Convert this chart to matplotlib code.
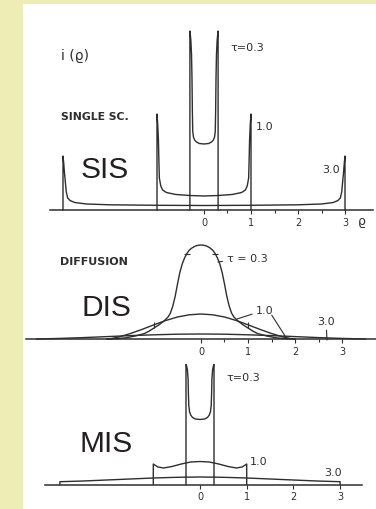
import numpy as np
import matplotlib
matplotlib.use("Agg")
import matplotlib.pyplot as plt
from matplotlib.patches import Rectangle

# ---- data (half profiles, rho >= 0) ----
rho_ticks = [0, 1, 2, 3]
rho_ticklabels = ["0", "1", "2", "3"]

# single scattering
sis03_r = [0, 0.1, 0.16, 0.2, 0.225, 0.24, 0.248, 0.255, 0.265, 0.28, 0.3]
sis03_i = [6.6, 6.65, 6.8, 7.0, 7.3, 7.9, 10.0, 13.0, 15.5, 17.0, 17.9]
sis10_r = [0, 0.3, 0.6, 0.8, 0.88, 0.92, 0.95, 0.96, 0.97, 0.985, 1.0]
sis10_i = [1.4, 1.45, 1.55, 1.75, 2.0, 2.4, 3.2, 5.0, 7.0, 8.6, 9.6]
sis30_r = [0, 1.0, 2.0, 2.5, 2.75, 2.85, 2.9, 2.93, 2.95, 2.97, 2.985, 3.0]
sis30_i = [0.45, 0.47, 0.52, 0.6, 0.75, 0.95, 1.2, 1.8, 2.8, 3.8, 4.7, 5.4]

# diffusion
dis03_r = [0, 0.05, 0.1, 0.15, 0.2, 0.25, 0.3, 0.35, 0.4, 0.45, 0.5, 0.55, 0.6, 0.65, 0.7,
           0.8, 0.9, 1.0, 1.1, 1.2, 1.4, 1.6, 1.8, 2.0]
dis03_i = [9.4, 9.38, 9.33, 9.22, 9.08, 8.88, 8.55, 8.1, 7.5, 6.65, 5.5, 4.25, 3.3, 2.6, 2.2,
           1.75, 1.4, 1.1, 0.8, 0.55, 0.3, 0.12, 0.03, 0]
dis10_r = [0, 0.25, 0.5, 0.75, 1.0, 1.25, 1.5, 1.75, 1.9, 2.0]
dis10_i = [2.5, 2.42, 2.2, 1.85, 1.42, 0.97, 0.55, 0.2, 0.05, 0.0]
dis30_r = [0, 0.5, 1.0, 1.5, 2.0, 2.5, 3.0, 3.5]
dis30_i = [0.5, 0.48, 0.42, 0.34, 0.24, 0.14, 0.06, 0.0]

# multiple scattering
mis03_r = [0, 0.1, 0.16, 0.2, 0.225, 0.24, 0.248, 0.255, 0.27, 0.29, 0.3]
mis03_i = [6.5, 6.55, 6.7, 6.95, 7.3, 7.9, 9.0, 10.5, 11.5, 11.9, 12.0]
mis10_r = [0, 0.2, 0.4, 0.6, 0.78, 0.9, 0.97, 1.0]
mis10_i = [2.3, 2.25, 2.05, 1.8, 1.65, 1.75, 1.95, 2.05]
mis30_r = [0, 0.5, 1.0, 1.5, 2.0, 2.5, 3.0]
mis30_i = [0.75, 0.72, 0.65, 0.55, 0.45, 0.35, 0.28]

INK = "#2e2e2e"
W, H = 376, 510

def mirror(r, i, walls=False):
    x = [-v for v in r[::-1]] + list(r[1:])
    y = list(i[::-1]) + list(i[1:])
    if walls:
        x = [x[0]] + x + [x[-1]]
        y = [0] + y + [0]
    return x, y

fig = plt.figure(figsize=(W / 100, H / 100), dpi=100, facecolor="#EEEDB5")
fig.patches.append(Rectangle((23 / W, 0), 1 - 23 / W, 1 - 5 / H, transform=fig.transFigure,
                             facecolor="white", edgecolor="none", zorder=-5))

def panel(top, bottom, x0, base, sx, left_end, right_end, minor=True, sy=10.0):
    ax = fig.add_axes([23 / W, 1 - bottom / H, (W - 23) / W, (bottom - top) / H])
    ax.set_xlim((23 - x0) / sx, (W - x0) / sx)
    ax.set_ylim(-(bottom - base) / sy, (base - top) / sy)
    ax.patch.set_visible(False)
    for s in ["top", "left", "right"]:
        ax.spines[s].set_visible(False)
    ax.spines["bottom"].set_position(("data", 0))
    ax.spines["bottom"].set_bounds((left_end - x0) / sx, (right_end - x0) / sx)
    ax.spines["bottom"].set_color(INK)
    ax.spines["bottom"].set_linewidth(1.1)
    ax.set_yticks([])
    ax.set_xticks(rho_ticks)
    ax.set_xticklabels(rho_ticklabels)
    if minor:
        ax.set_xticks([0.5, 1.5, 2.5], minor=True)
    ax.tick_params(axis="x", which="both", direction="out", length=3, width=0.8,
                   color=INK, labelsize=7, pad=2, labelcolor=INK)
    ax.tick_params(axis="x", which="minor", length=2)
    # pixel -> data helper for text placement
    ax.px = lambda px, py: ((px - x0) / sx, (base - py) / sy)
    return ax

def label(ax, px, py, s, **kw):
    x, y = ax.px(px, py)
    kw.setdefault("color", INK)
    kw.setdefault("fontsize", 8)
    ax.text(x, y, s, ha="center", va="center", clip_on=False, **kw)

lw = 1.0

# ---- SIS panel ----
ax1 = panel(15, 235, 204, 211, 47, 50, 373)
for r, i in [(sis03_r, sis03_i), (sis10_r, sis10_i), (sis30_r, sis30_i)]:
    x, y = mirror(r, i, walls=True)
    ax1.plot(x, y, color=INK, lw=lw, clip_on=False)
label(ax1, 75, 56, "i (ϱ)", fontsize=10)
label(ax1, 95, 117, "SINGLE SC.", fontsize=7.8, fontweight="bold")
label(ax1, 247, 48, "τ=0.3")
label(ax1, 265, 127, "1.0")
label(ax1, 331, 170, "3.0")
label(ax1, 362, 222, "ϱ", fontsize=9)
label(ax1, 105, 170.5, "SIS", fontsize=21.5, family="Liberation Sans", color="#231f20")

# ---- DIS panel ----
ax2 = panel(235, 365, 201, 340, 47, 26, 376)
for r, i in [(dis03_r, dis03_i), (dis10_r, dis10_i), (dis30_r, dis30_i)]:
    x, y = mirror(r, i)
    ax2.plot(x, y, color=INK, lw=lw, clip_on=False)
ax2.plot([-0.3, 0.3], [8.55, 8.55], ls="none", marker="_", ms=5, mew=0.8, color=INK)
ax2.plot([-1.0, 1.0], [1.42, 1.42], ls="none", marker="|", ms=4, mew=0.8, color=INK)
label(ax2, 94, 262, "DIFFUSION", fontsize=8, fontweight="bold")
label(ax2, 106, 308, "DIS", fontsize=21.5, family="Liberation Sans", color="#231f20")
lead = dict(arrowstyle="-", color=INK, lw=0.8, shrinkA=1, shrinkB=0)
ax2.annotate("τ = 0.3", xy=ax2.px(218, 263), xytext=ax2.px(247, 259), ha="center", va="center",
             fontsize=8, color=INK, arrowprops=lead)
ax2.annotate("1.0", xy=ax2.px(237, 320), xytext=ax2.px(265, 311), ha="center", va="center",
             fontsize=8, color=INK, arrowprops=lead)
ax2.annotate("", xy=ax2.px(287, 340), xytext=ax2.px(271, 315), arrowprops=lead)
ax2.annotate("3.0", xy=ax2.px(327, 341), xytext=ax2.px(326, 322), ha="center", va="center",
             fontsize=8, color=INK, arrowprops=lead)

# ---- MIS panel ----
ax3 = panel(355, 510, 200, 485.5, 46.7, 45, 362, minor=False)
for r, i in [(mis03_r, mis03_i), (mis10_r, mis10_i), (mis30_r, mis30_i)]:
    x, y = mirror(r, i, walls=True)
    ax3.plot(x, y, color=INK, lw=lw, clip_on=False)
label(ax3, 243, 378, "τ=0.3")
label(ax3, 259, 462, "1.0")
label(ax3, 333, 473, "3.0")
label(ax3, 106, 444, "MIS", fontsize=21.5, family="Liberation Sans", color="#231f20")

fig.savefig("out.png", dpi=100, facecolor=fig.get_facecolor())
